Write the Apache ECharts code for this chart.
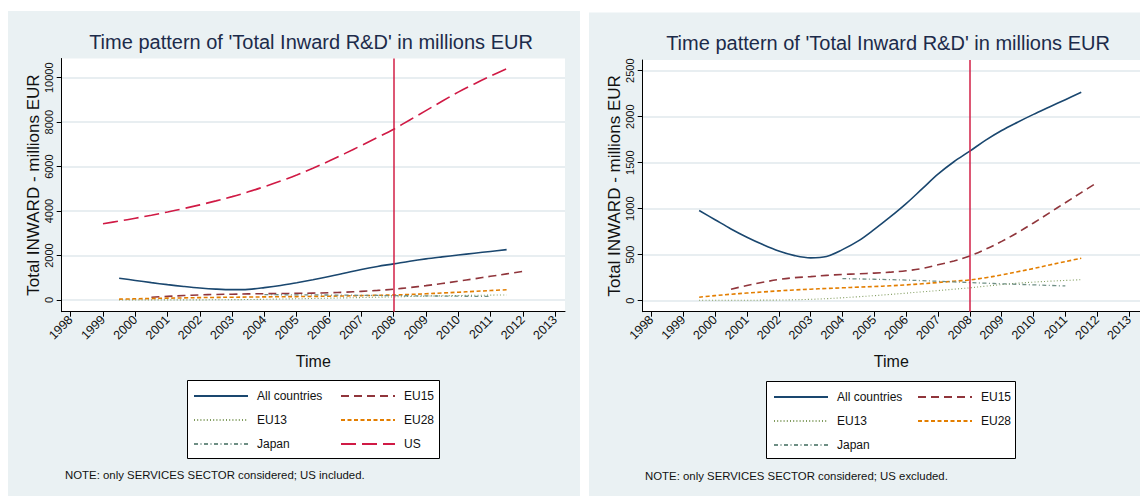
<!DOCTYPE html>
<html>
<head>
<meta charset="utf-8">
<script src="https://cdn.jsdelivr.net/npm/echarts@6/dist/echarts.min.js"></script>
<style>
  html, body { margin: 0; padding: 0; background: #ffffff; }
  #chart { width: 1140px; height: 496px; }
</style>
</head>
<body>
<div id="chart"></div>
<script>
// ---- data (millions EUR, services sector) ----
const tickYears = [1998, 1999, 2000, 2001, 2002, 2003, 2004, 2005, 2006, 2007, 2008, 2009, 2010, 2011, 2012, 2013];
const yTicksWithUS = [0, 2000, 4000, 6000, 8000, 10000];
const yTicksNoUS = [0, 500, 1000, 1500, 2000, 2500];
const eventYear = 2008;

const allCountriesYears = [1999.5, 2000, 2000.5, 2001, 2001.5, 2002, 2002.5, 2003, 2003.5, 2004, 2004.5, 2005, 2005.5, 2006, 2006.5, 2007, 2007.5, 2008, 2008.5, 2009, 2009.5, 2010, 2010.5, 2011, 2011.5];
const allCountries = [980, 880, 780, 690, 610, 540, 490, 465, 480, 555, 650, 775, 910, 1055, 1215, 1375, 1510, 1625, 1745, 1850, 1940, 2025, 2105, 2185, 2265];

const eu15Years = [2000.5, 2001, 2001.5, 2002, 2002.5, 2003, 2003.5, 2004, 2004.5, 2005, 2005.5, 2006, 2006.5, 2007, 2007.5, 2008, 2008.5, 2009, 2009.5, 2010, 2010.5, 2011, 2011.5, 2012];
const eu15 = [125, 165, 200, 230, 250, 262, 275, 285, 292, 300, 310, 325, 350, 390, 432, 487, 560, 645, 740, 845, 955, 1065, 1175, 1285];

const eu13Years = [1999.5, 2000, 2000.5, 2001, 2001.5, 2002, 2002.5, 2003, 2003.5, 2004, 2004.5, 2005, 2005.5, 2006, 2006.5, 2007, 2007.5, 2008, 2008.5, 2009, 2009.5, 2010, 2010.5, 2011, 2011.5];
const eu13 = [5, 5, 5, 5, 6, 7, 10, 15, 22, 32, 43, 55, 68, 82, 96, 110, 125, 140, 158, 175, 190, 202, 212, 220, 228];

const eu28Years = [1999.5, 2000, 2000.5, 2001, 2001.5, 2002, 2002.5, 2003, 2003.5, 2004, 2004.5, 2005, 2005.5, 2006, 2006.5, 2007, 2007.5, 2008, 2008.5, 2009, 2009.5, 2010, 2010.5, 2011, 2011.5];
const eu28 = [38, 55, 70, 83, 95, 107, 117, 125, 133, 140, 147, 154, 162, 172, 184, 198, 212, 225, 250, 280, 315, 350, 388, 425, 462];

const japanYears = [2004, 2004.5, 2005, 2005.5, 2006, 2006.5, 2007, 2007.5, 2008, 2008.5, 2009, 2009.5, 2010, 2010.5, 2011];
const japan = [240, 237, 233, 229, 224, 218, 211, 204, 197, 190, 184, 178, 172, 166, 160];

const usYears = [1999, 1999.5, 2000, 2000.5, 2001, 2001.5, 2002, 2002.5, 2003, 2003.5, 2004, 2004.5, 2005, 2005.5, 2006, 2006.5, 2007, 2007.5, 2008, 2008.5, 2009, 2009.5, 2010, 2010.5, 2011, 2011.5];
const us = [3430, 3550, 3680, 3815, 3960, 4115, 4280, 4460, 4650, 4865, 5100, 5350, 5620, 5925, 6250, 6595, 6950, 7310, 7680, 8100, 8520, 8940, 9350, 9720, 10070, 10400];

const titleText = "Time pattern of 'Total Inward R&D' in millions EUR";
const yTitle = 'Total INWARD - millions EUR';
const xTitle = 'Time';
const noteLeft = 'NOTE: only SERVICES SECTOR considered; US included.';
const noteRight = 'NOTE: only SERVICES SECTOR considered; US excluded.';

// ---- styling ----
const FONT = 'Liberation Sans';
const PANEL_BG = '#eaf1f3';
const GRID_LINE = '#e1e9ec';
const TITLE_COLOR = '#1c2b4a';

const seriesStyles = {
  'All countries': { color: '#1a476f', type: 'solid', width: 1.6 },
  'EU15': { color: '#90353b', type: [8, 5], width: 1.6 },
  'EU13': { color: '#7f9a5c', type: [1, 2.2], width: 1.1 },
  'EU28': { color: '#e37e00', type: [4, 2.5], width: 1.6 },
  'Japan': { color: '#6e8e84', type: [4, 2.5, 1, 2.5], width: 1.3 },
  'US': { color: '#d01a45', type: [15, 6], width: 1.6 }
};

const pairs = (xs, ys) => xs.map((x, i) => [x, ys[i]]);

function makeSeries(name, xs, ys, axisIdx, withEvent) {
  const st = seriesStyles[name];
  const s = {
    name: name,
    type: 'line',
    xAxisIndex: axisIdx,
    yAxisIndex: axisIdx,
    data: pairs(xs, ys),
    smooth: 0.35,
    showSymbol: false,
    symbol: 'none',
    itemStyle: { color: st.color },
    lineStyle: { color: st.color, type: st.type, width: st.width },
    silent: true,
    z: 3
  };
  if (withEvent) {
    s.markLine = {
      silent: true,
      symbol: ['none', 'none'],
      label: { show: false },
      lineStyle: { color: '#d21f46', type: 'solid', width: 1.5 },
      data: [{ xAxis: eventYear }]
    };
  }
  return s;
}

function xAxisFor(gridIndex, min, max) {
  return {
    type: 'value', gridIndex: gridIndex, min: min, max: max,
    name: xTitle, nameLocation: 'middle', nameGap: 42,
    nameTextStyle: { fontFamily: FONT, fontSize: 16, color: '#111' },
    axisLine: { show: true, onZero: false, lineStyle: { color: '#000', width: 1 } },
    axisTick: { show: true, length: 5, customValues: tickYears, lineStyle: { color: '#000' } },
    axisLabel: { customValues: tickYears, rotate: 45, margin: 6, fontFamily: FONT, fontSize: 12.5, color: '#111',
                 formatter: v => String(v) },
    splitLine: { show: false }
  };
}

function yAxisFor(gridIndex, min, max, ticks) {
  return {
    type: 'value', gridIndex: gridIndex, min: min, max: max,
    name: yTitle, nameLocation: 'middle', nameRotate: 90, nameGap: 20,
    nameTextStyle: { fontFamily: FONT, fontSize: 17, color: '#111' },
    axisLine: { show: true, onZero: false, lineStyle: { color: '#000', width: 1 } },
    axisTick: { show: true, length: 5, customValues: ticks, lineStyle: { color: '#000' } },
    axisLabel: { customValues: ticks, rotate: 90, margin: 7, fontFamily: FONT, fontSize: 11, color: '#111',
                 formatter: v => String(v) },
    splitLine: { show: true, lineStyle: { color: GRID_LINE, width: 1.5 } }
  };
}

// legend columns: one vertical legend per column so both columns line up
function legendColumn(left, top, names) {
  return {
    show: true, data: names, left: left, top: top, orient: 'vertical',
    itemGap: 12, itemWidth: 54, itemHeight: 12, padding: 0,
    selectedMode: false,
    itemStyle: { opacity: 0 },
    textStyle: { fontFamily: FONT, fontSize: 12, color: '#111', padding: [0, 0, 0, 4] }
  };
}

const chart = echarts.init(document.getElementById('chart'), null, { renderer: 'svg' });

const option = {
  backgroundColor: '#ffffff',
  animation: false,
  graphic: [
    { type: 'rect', z: -10, shape: { x: 8, y: 11, width: 572, height: 485 }, style: { fill: PANEL_BG } },
    { type: 'rect', z: -10, shape: { x: 589, y: 12.5, width: 551, height: 484 }, style: { fill: PANEL_BG } },
    { type: 'rect', z: 1, shape: { x: 187.5, y: 380.5, width: 252, height: 78 }, style: { fill: '#fff', stroke: '#000', lineWidth: 1 } },
    { type: 'rect', z: 1, shape: { x: 766.5, y: 381.5, width: 249, height: 77 }, style: { fill: '#fff', stroke: '#000', lineWidth: 1 } },
    { type: 'text', z: 5, x: 311, y: 42, style: { text: titleText, fontFamily: FONT, fontSize: 20, fill: TITLE_COLOR, textAlign: 'center', textVerticalAlign: 'middle' } },
    { type: 'text', z: 5, x: 888, y: 43, style: { text: titleText, fontFamily: FONT, fontSize: 20, fill: TITLE_COLOR, textAlign: 'center', textVerticalAlign: 'middle' } },
    { type: 'text', z: 5, x: 65, y: 475, style: { text: noteLeft, fontFamily: FONT, fontSize: 11.4, fill: '#111', textAlign: 'left', textVerticalAlign: 'middle' } },
    { type: 'text', z: 5, x: 645, y: 476, style: { text: noteRight, fontFamily: FONT, fontSize: 11.4, fill: '#111', textAlign: 'left', textVerticalAlign: 'middle' } }
  ],
  legend: [
    legendColumn(193, 390, ['All countries', 'EU13', 'Japan']),
    legendColumn(340, 390, ['EU15', 'EU28', 'US']),
    legendColumn(773, 391, ['All countries', 'EU13', 'Japan']),
    legendColumn(917, 391, ['EU15', 'EU28'])
  ],
  grid: [
    { left: 61.7, top: 58.5, width: 503.3, height: 253.2, show: true, backgroundColor: '#fff', borderWidth: 0, containLabel: false },
    { left: 642.7, top: 60, width: 497.3, height: 251.7, show: true, backgroundColor: '#fff', borderWidth: 0, containLabel: false }
  ],
  xAxis: [
    xAxisFor(0, 1997.721, 2013.308),
    xAxisFor(1, 1997.727, 2013.345)
  ],
  yAxis: [
    yAxisFor(0, -526, 10864, yTicksWithUS),
    yAxisFor(1, -119.6, 2616, yTicksNoUS)
  ],
  series: [
    makeSeries('All countries', allCountriesYears, allCountries, 0, true),
    makeSeries('EU15', eu15Years, eu15, 0, false),
    makeSeries('EU13', eu13Years, eu13, 0, false),
    makeSeries('EU28', eu28Years, eu28, 0, false),
    makeSeries('Japan', japanYears, japan, 0, false),
    makeSeries('US', usYears, us, 0, false),
    makeSeries('All countries', allCountriesYears, allCountries, 1, true),
    makeSeries('EU15', eu15Years, eu15, 1, false),
    makeSeries('EU13', eu13Years, eu13, 1, false),
    makeSeries('EU28', eu28Years, eu28, 1, false),
    makeSeries('Japan', japanYears, japan, 1, false)
  ]
};

chart.setOption(option);
</script>
</body>
</html>
